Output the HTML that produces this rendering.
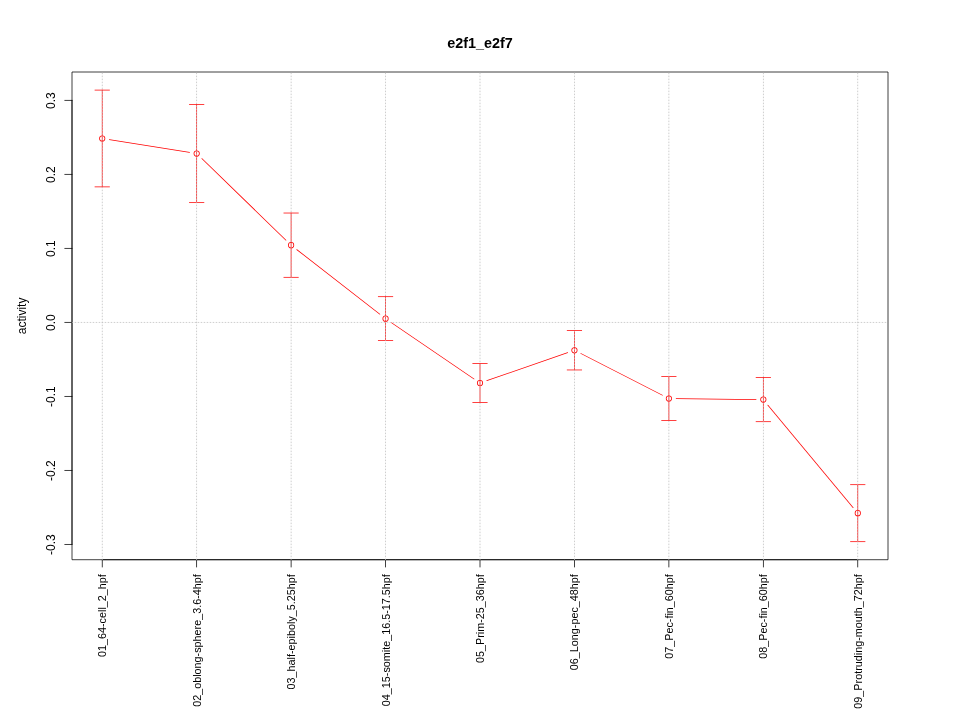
<!DOCTYPE html><html><head><meta charset="utf-8"><title>e2f1_e2f7</title><style>html,body{margin:0;padding:0;background:#fff;width:960px;height:720px;overflow:hidden}</style></head><body><svg width="960" height="720" viewBox="0 0 960 720" style="display:block;will-change:transform">
<rect width="960" height="720" fill="#fff"/>
<g fill="none" stroke-width="0.75" stroke-linecap="round" stroke-linejoin="round">
<path fill="#ff0000" stroke="none" fill-rule="evenodd" d="M99.147 138.490A3.075 3.075 0 1 0 105.297 138.490A3.075 3.075 0 1 0 99.147 138.490ZM99.897 138.490A2.325 2.325 0 1 1 104.547 138.490A2.325 2.325 0 1 1 99.897 138.490ZM193.592 153.575A3.075 3.075 0 1 0 199.742 153.575A3.075 3.075 0 1 0 193.592 153.575ZM194.342 153.575A2.325 2.325 0 1 1 198.992 153.575A2.325 2.325 0 1 1 194.342 153.575ZM288.036 245.170A3.075 3.075 0 1 0 294.186 245.170A3.075 3.075 0 1 0 288.036 245.170ZM288.786 245.170A2.325 2.325 0 1 1 293.436 245.170A2.325 2.325 0 1 1 288.786 245.170ZM382.481 318.655A3.075 3.075 0 1 0 388.631 318.655A3.075 3.075 0 1 0 382.481 318.655ZM383.231 318.655A2.325 2.325 0 1 1 387.881 318.655A2.325 2.325 0 1 1 383.231 318.655ZM476.925 383.000A3.075 3.075 0 1 0 483.075 383.000A3.075 3.075 0 1 0 476.925 383.000ZM477.675 383.000A2.325 2.325 0 1 1 482.325 383.000A2.325 2.325 0 1 1 477.675 383.000ZM571.369 350.230A3.075 3.075 0 1 0 577.519 350.230A3.075 3.075 0 1 0 571.369 350.230ZM572.119 350.230A2.325 2.325 0 1 1 576.769 350.230A2.325 2.325 0 1 1 572.119 350.230ZM665.814 398.500A3.075 3.075 0 1 0 671.964 398.500A3.075 3.075 0 1 0 665.814 398.500ZM666.564 398.500A2.325 2.325 0 1 1 671.214 398.500A2.325 2.325 0 1 1 666.564 398.500ZM760.258 399.600A3.075 3.075 0 1 0 766.408 399.600A3.075 3.075 0 1 0 760.258 399.600ZM761.008 399.600A2.325 2.325 0 1 1 765.658 399.600A2.325 2.325 0 1 1 761.008 399.600ZM854.703 513.190A3.075 3.075 0 1 0 860.853 513.190A3.075 3.075 0 1 0 854.703 513.190ZM855.453 513.190A2.325 2.325 0 1 1 860.103 513.190A2.325 2.325 0 1 1 855.453 513.190Z"/>
<path fill="#ff0000" stroke="none" d="M109.273 139.996L189.498 152.810A0.375 0.375 0 0 0 189.616 152.069L109.391 139.255A0.375 0.375 0 0 0 109.273 139.996Z"/>
<path fill="#ff0000" stroke="none" d="M201.574 158.857L285.681 240.427A0.375 0.375 0 0 0 286.204 239.888L202.096 158.318A0.375 0.375 0 0 0 201.574 158.857Z"/>
<path fill="#ff0000" stroke="none" d="M296.563 249.887L379.643 314.530A0.375 0.375 0 0 0 380.103 313.938L297.024 249.295A0.375 0.375 0 0 0 296.563 249.887Z"/>
<path fill="#ff0000" stroke="none" d="M391.295 323.019L473.839 379.256A0.375 0.375 0 0 0 474.261 378.636L391.717 322.399A0.375 0.375 0 0 0 391.295 323.019Z"/>
<path fill="#ff0000" stroke="none" d="M486.925 380.994L567.765 352.944A0.375 0.375 0 0 0 567.519 352.236L486.679 380.286A0.375 0.375 0 0 0 486.925 380.994Z"/>
<path fill="#ff0000" stroke="none" d="M580.685 353.841L662.307 395.557A0.375 0.375 0 0 0 662.648 394.889L581.026 353.173A0.375 0.375 0 0 0 580.685 353.841Z"/>
<path fill="#ff0000" stroke="none" d="M676.084 398.959L756.129 399.891A0.375 0.375 0 0 0 756.138 399.141L676.093 398.209A0.375 0.375 0 0 0 676.084 398.959Z"/>
<path fill="#ff0000" stroke="none" d="M767.648 405.376L852.886 507.893A0.375 0.375 0 0 0 853.463 507.414L768.225 404.897A0.375 0.375 0 0 0 767.648 405.376Z"/>
<path stroke="#000" stroke-linecap="butt" stroke-linejoin="miter" d="M72.0 72.00H888.0V559.71H72.0Z"/>
<path stroke="#000" d="M102.22 559.71H857.78M102.30 559.78v7.2M196.56 559.78v7.2M291.15 559.78v7.2M385.50 559.78v7.2M480.00 559.78v7.2M574.50 559.78v7.2M668.85 559.78v7.2M763.44 559.78v7.2M857.70 559.78v7.2"/>
<path stroke="#000" d="M72.0 544.37V100.31M72.0 544.49h-7.2M72.0 470.48h-7.2M72.0 396.47h-7.2M72.0 322.45h-7.2M72.0 248.44h-7.2M72.0 174.43h-7.2M72.0 100.41h-7.2"/>
<path stroke="#ff0000" d="M102.30 90.1V186.88M95.02 90.13h14.4M95.02 186.84h14.4"/>
<path stroke="#ff0000" d="M196.56 104.5V202.65M189.47 104.50h14.4M189.47 202.53h14.4"/>
<path stroke="#ff0000" d="M291.15 213.03V277.31M283.91 213.04h14.4M283.91 277.41h14.4"/>
<path stroke="#ff0000" d="M385.50 296.69V340.62M378.36 296.59h14.4M378.36 340.50h14.4"/>
<path stroke="#ff0000" d="M480.00 363.5V402.5M472.80 363.50h14.4M472.80 402.50h14.4"/>
<path stroke="#ff0000" d="M574.50 330.5V369.96M567.24 330.50h14.4M567.24 369.95h14.4"/>
<path stroke="#ff0000" d="M668.85 376.5V420.5M661.69 376.50h14.4M661.69 420.50h14.4"/>
<path stroke="#ff0000" d="M763.44 377.5V421.7M756.13 377.50h14.4M756.13 421.60h14.4"/>
<path stroke="#ff0000" d="M857.70 484.69V541.69M850.58 484.59h14.4M850.58 541.59h14.4"/>
<path stroke="#bebebe" stroke-dasharray="0.75 2.25" d="M102.30 559.78V72.0M196.56 559.78V72.0M291.15 559.78V72.0M385.50 559.78V72.0M480.00 559.78V72.0M574.50 559.78V72.0M668.85 559.78V72.0M763.44 559.78V72.0M857.70 559.78V72.0"/>
<path stroke="#bebebe" stroke-dasharray="0.75 2.25" stroke-dashoffset="-0.1" d="M72.0 322.45H888.0"/>
</g>
<g font-family="'Liberation Sans', Arial, sans-serif" fill="#000">
<text x="480" y="48" font-size="14.4" font-weight="bold" text-anchor="middle">e2f1_e2f7</text>
<text transform="translate(55 544.67) rotate(-90)" font-size="12" text-anchor="middle">-0.3</text>
<text transform="translate(55 470.66) rotate(-90)" font-size="12" text-anchor="middle">-0.2</text>
<text transform="translate(55 396.65) rotate(-90)" font-size="12" text-anchor="middle">-0.1</text>
<text transform="translate(55 322.64) rotate(-90)" font-size="12" text-anchor="middle">0.0</text>
<text transform="translate(55 248.63) rotate(-90)" font-size="12" text-anchor="middle">0.1</text>
<text transform="translate(55 174.62) rotate(-90)" font-size="12" text-anchor="middle">0.2</text>
<text transform="translate(55 100.61) rotate(-90)" font-size="12" text-anchor="middle">0.3</text>
<text transform="translate(26 315.89) rotate(-90)" font-size="12" text-anchor="middle">activity</text>
<text transform="translate(106 574.18) rotate(-90)" font-size="10.8" text-anchor="end">01_64-cell_2_hpf</text>
<text transform="translate(201 574.18) rotate(-90)" font-size="10.8" text-anchor="end">02_oblong-sphere_3.6-4hpf</text>
<text transform="translate(295 574.18) rotate(-90)" font-size="10.8" text-anchor="end">03_half-epiboly_5.25hpf</text>
<text transform="translate(390 574.18) rotate(-90)" font-size="10.8" text-anchor="end">04_15-somite_16.5-17.5hpf</text>
<text transform="translate(484 574.18) rotate(-90)" font-size="10.8" text-anchor="end">05_Prim-25_36hpf</text>
<text transform="translate(578 574.18) rotate(-90)" font-size="10.8" text-anchor="end">06_Long-pec_48hpf</text>
<text transform="translate(673 574.18) rotate(-90)" font-size="10.8" text-anchor="end">07_Pec-fin_60hpf</text>
<text transform="translate(767 574.18) rotate(-90)" font-size="10.8" text-anchor="end">08_Pec-fin_60hpf</text>
<text transform="translate(862 574.18) rotate(-90)" font-size="10.8" text-anchor="end">09_Protruding-mouth_72hpf</text>
</g></svg></body></html>
